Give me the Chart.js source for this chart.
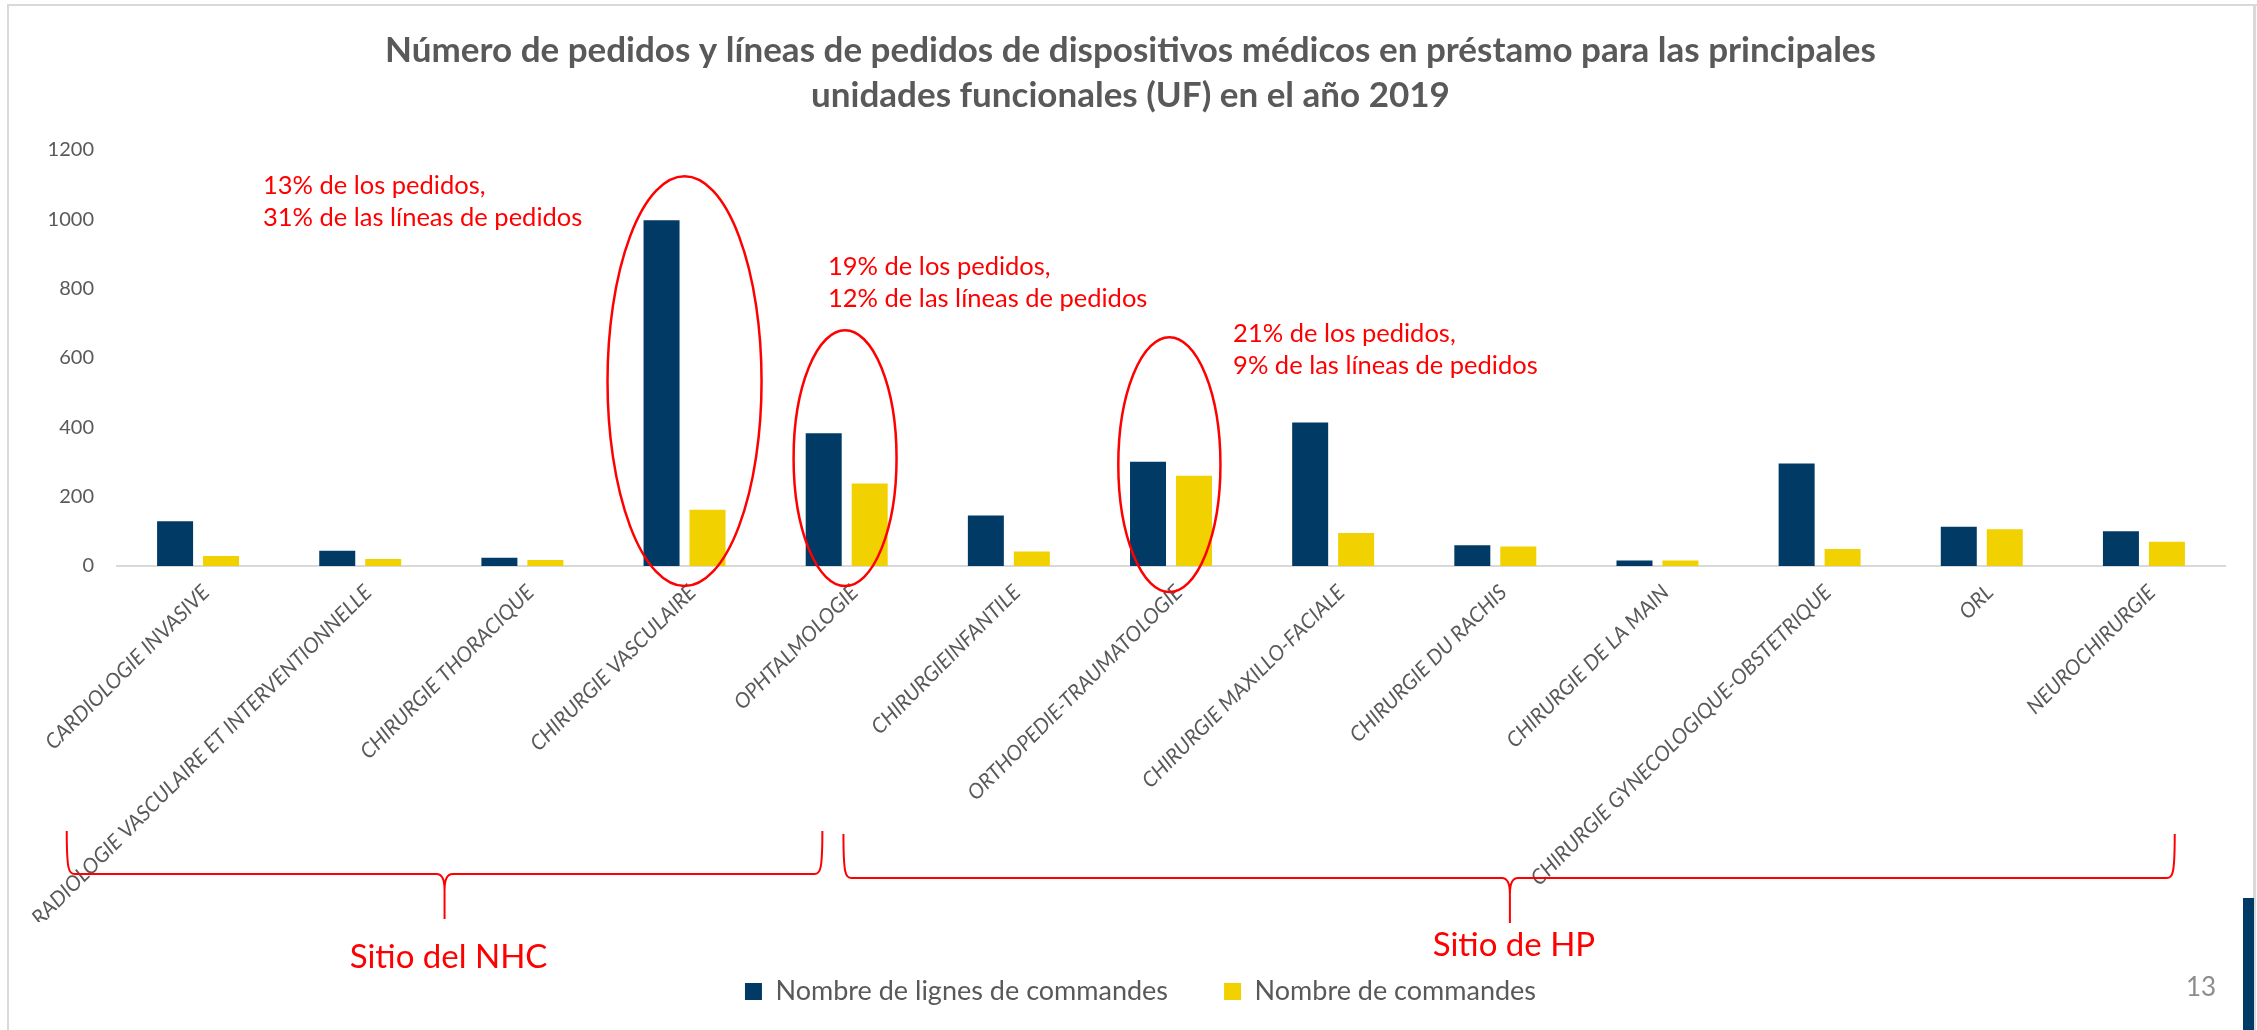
<!DOCTYPE html>
<html>
<head>
<meta charset="utf-8">
<script src="https://cdn.jsdelivr.net/npm/chart.js@4.4.1/dist/chart.umd.min.js"></script>
<style>
  html, body { margin: 0; padding: 0; background: #ffffff; }
  #wrap { position: relative; width: 2257px; height: 1030px; overflow: hidden; background: #fff; }
  #c { position: absolute; left: 0; top: 0; }
  .frame { position: absolute; background: #d9d9d9; }
  #pageNum { position: absolute; left: 2186px; top: 973px; font-family: Lato, sans-serif; font-size: 26px; color: #8c8c8c; line-height: 1; }
  #navyTab { position: absolute; left: 2243px; top: 898px; width: 11px; height: 132px; background: #003a66; }
</style>
</head>
<body>
<div id="wrap">
  <canvas id="c" width="2257" height="1030"></canvas>
  <div class="frame" style="left:8px;top:4px;width:2249px;height:2px;"></div>
  <div class="frame" style="left:7px;top:4px;width:2px;height:1026px;"></div>
  <div class="frame" style="left:2253px;top:4px;width:3px;height:1026px;"></div>
  <div id="navyTab"></div>
  <div id="pageNum">13</div>
</div>
<script>
// ---------- DATA ----------
const categories = [
  'CARDIOLOGIE INVASIVE',
  'RADIOLOGIE VASCULAIRE ET INTERVENTIONNELLE',
  'CHIRURGIE THORACIQUE',
  'CHIRURGIE VASCULAIRE',
  'OPHTALMOLOGIE',
  'CHIRURGIEINFANTILE',
  'ORTHOPEDIE-TRAUMATOLOGIE',
  'CHIRURGIE MAXILLO-FACIALE',
  'CHIRURGIE DU RACHIS',
  'CHIRURGIE DE LA MAIN',
  'CHIRURGIE GYNECOLOGIQUE-OBSTETRIQUE',
  'ORL',
  'NEUROCHIRURGIE'
];
const lignesDeCommandes = [129, 44, 24, 997, 383, 146, 301, 414, 60, 16, 296, 113, 100];
const nombreDeCommandes = [29, 20, 17, 162, 238, 42, 260, 95, 56, 16, 49, 106, 70];
const seriesNames = ['Nombre de lignes de commandes', 'Nombre de commandes'];
const yTickMin = 0;
const yTickMax = 1200;
const yTickStep = 200;
const titleLines = [
  'Número de pedidos y líneas de pedidos de dispositivos médicos en préstamo para las principales',
  'unidades funcionales (UF) en el año 2019'
];
const calloutTexts = [
  ['13% de los pedidos,', '31% de las líneas de pedidos'],
  ['19% de los pedidos,', '12% de las líneas de pedidos'],
  ['21% de los pedidos,', '9% de las líneas de pedidos']
];
const siteLabels = ['Sitio del NHC', 'Sitio de HP'];

// ---------- ANNOTATION GEOMETRY (in scale units) ----------
const ellipseSpecs = [
  { cat: 3.0, widthCats: 0.95, top: 1124, bottom: -58 },
  { cat: 3.99, widthCats: 0.635, top: 680, bottom: -58 },
  { cat: 5.99, widthCats: 0.63, top: 660, bottom: -75 }
];
const calloutSpecs = [
  { cat: 0.40, baseValue: 1074 },
  { cat: 3.885, baseValue: 840 },
  { cat: 6.383, baseValue: 646 }
];
const braceSpecs = [
  { from: -0.81, to: 3.85, tip: 1.52, yTop: 265, yH: 308, yTip: 353, labelBase: 402 },
  { from: 3.98, to: 12.19, tip: 8.09, yTop: 268, yH: 312, yTip: 357, labelBase: 390 }
];

const NAVY = '#013a65';
const YELLOW = '#f1d100';
const GRAY = '#595959';
const RED = '#ff0000';

const blockShiftPlugin = {
  id: 'blockShift',
  afterLayout(chart) {
    const lg = chart.legend;
    if (lg) { lg.left += 28; lg.right += 28; }
    const tb = chart.titleBlock;
    if (tb) { tb.left += 18; tb.right += 18; }
  }
};

const annotPlugin = {
  id: 'annot',
  afterDraw(chart) {
    const { ctx, chartArea } = chart;
    const x = chart.scales.x, y = chart.scales.y;
    const catW = x.getPixelForValue(1) - x.getPixelForValue(0);
    ctx.save();
    ctx.strokeStyle = RED;
    // ellipses
    ctx.lineWidth = 2.5;
    ellipseSpecs.forEach(e => {
      const cx = x.getPixelForValue(e.cat);
      const t = y.getPixelForValue(e.top), b = y.getPixelForValue(e.bottom);
      ctx.beginPath();
      ctx.ellipse(cx, (t + b) / 2, catW * e.widthCats / 2, (b - t) / 2, 0, 0, Math.PI * 2);
      ctx.stroke();
    });
    // callout texts
    ctx.fillStyle = RED;
    ctx.font = '25.5px Lato, sans-serif';
    ctx.textAlign = 'left';
    ctx.textBaseline = 'alphabetic';
    calloutSpecs.forEach((c, i) => {
      const px = x.getPixelForValue(c.cat);
      const py = y.getPixelForValue(c.baseValue);
      calloutTexts[i].forEach((line, j) => ctx.fillText(line, px, py + j * 32));
    });
    // braces
    ctx.lineWidth = 2;
    const base = chartArea.bottom;
    braceSpecs.forEach((s, i) => {
      const x1 = x.getPixelForValue(s.from), x2 = x.getPixelForValue(s.to), xm = x.getPixelForValue(s.tip);
      const yT = base + s.yTop, yH = base + s.yH, yP = base + s.yTip;
      const r = 8;
      ctx.beginPath();
      ctx.moveTo(x1, yT);
      ctx.bezierCurveTo(x1, yH - 4, x1 + 2, yH, x1 + r, yH);
      ctx.lineTo(xm - r, yH);
      ctx.quadraticCurveTo(xm, yH, xm, yH + 2 * r);
      ctx.lineTo(xm, yP);
      ctx.moveTo(xm, yH + 2 * r);
      ctx.quadraticCurveTo(xm, yH, xm + r, yH);
      ctx.lineTo(x2 - r, yH);
      ctx.bezierCurveTo(x2 - 2, yH, x2, yH - 4, x2, yT);
      ctx.stroke();
      ctx.font = '33px Lato, sans-serif';
      ctx.textAlign = 'center';
      ctx.fillText(siteLabels[i], xm + 4, base + s.labelBase);
    });
    ctx.restore();
  }
};

new Chart(document.getElementById('c'), {
  type: 'bar',
  data: {
    labels: categories,
    datasets: [
      { label: seriesNames[0], data: lignesDeCommandes, backgroundColor: NAVY, categoryPercentage: 0.567, barPercentage: 0.783 },
      { label: seriesNames[1], data: nombreDeCommandes, backgroundColor: YELLOW, categoryPercentage: 0.567, barPercentage: 0.783 }
    ]
  },
  options: {
    responsive: false,
    animation: false,
    devicePixelRatio: 1,
    layout: { padding: { left: 0, right: 32, top: 0, bottom: 15 } },
    plugins: {
      title: {
        display: true,
        text: titleLines,
        color: GRAY,
        font: { family: 'Lato, sans-serif', size: 35, weight: 'bold', lineHeight: 45 / 35 },
        padding: { top: 28, bottom: 32 }
      },
      legend: {
        position: 'bottom',
        labels: {
          boxWidth: 17, boxHeight: 17, padding: 56,
          color: GRAY,
          font: { family: 'Lato, sans-serif', size: 27 }
        }
      },
      tooltip: { enabled: false }
    },
    scales: {
      x: {
        grid: { display: false, drawTicks: false },
        border: { display: true, color: '#d9d9d9', width: 2 },
        ticks: {
          autoSkip: false, minRotation: 45, maxRotation: 45, padding: 14, labelOffset: 8,
          color: GRAY,
          font: { family: 'Lato, sans-serif', size: 21, style: 'italic' }
        },
        afterFit(scale) { scale.height = 356; }
      },
      y: {
        min: yTickMin, max: yTickMax,
        grid: { display: false, drawTicks: false },
        border: { display: false },
        ticks: {
          stepSize: yTickStep, padding: 23,
          color: GRAY,
          font: { family: 'Lato, sans-serif', size: 20 },
          callback: (v) => String(v)
        },
        afterFit(scale) { scale.width = 117; }
      }
    }
  },
  plugins: [annotPlugin, blockShiftPlugin]
});
</script>
</body>
</html>
